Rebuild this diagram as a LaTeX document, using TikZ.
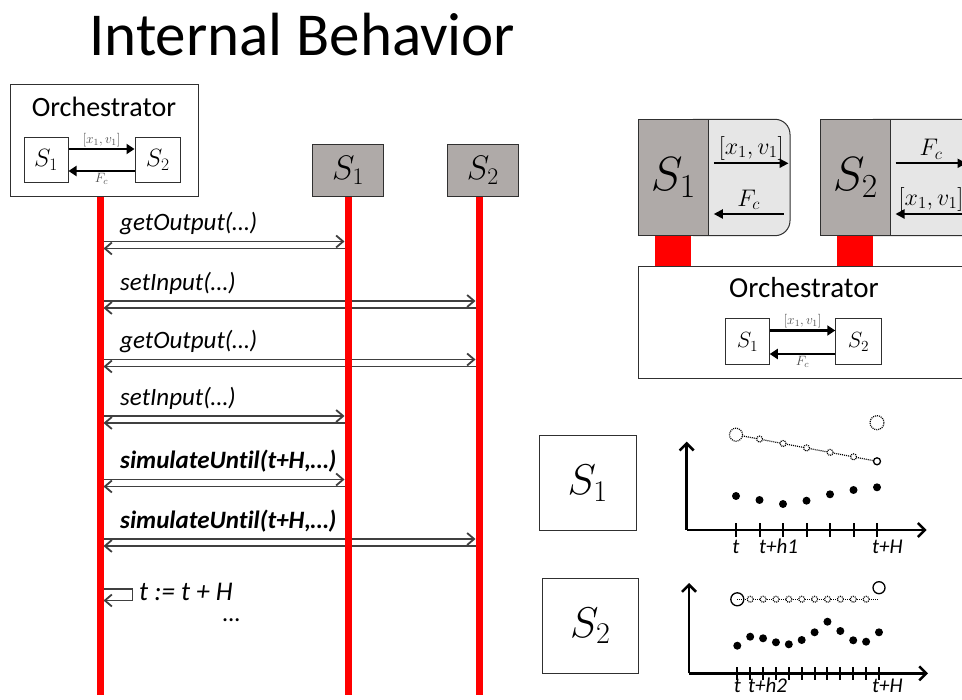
\RequirePackage{fix-cm}
\documentclass[tikz,border=0pt]{standalone}
\usepackage{fontspec}
\setmainfont{Carlito}[Ligatures=NoCommon]
\usetikzlibrary{arrows.meta,calc}
\definecolor{simgrey}{HTML}{AFAAA8}
\definecolor{portgrey}{HTML}{E6E6E6}
\definecolor{msggrey}{HTML}{404040}
\definecolor{boxline}{HTML}{303030}
\tikzset{
  box/.style={draw=boxline, line width=1pt, inner sep=0pt},
  simbox/.style={draw=boxline, line width=1pt, fill=simgrey, inner sep=0pt},
  lifeline/.style={draw=red, line width=7pt},
  msg/.style={draw=msggrey, line width=1.8pt, -{Straight Barb[length=7pt,width=12pt]}, shorten >=3.5pt, shorten <=3.5pt},
  flow/.style={line width=2.5pt, -{Triangle[length=8pt,width=10pt]}},
  uflow/.style={line width=2pt, -{Triangle[length=9pt,width=9pt]}},
  lbl/.style={font=\fontsize{25}{28}\selectfont\itshape, anchor=base west, inner sep=0pt},
  tl/.style={font=\fontsize{21}{24}\selectfont\itshape, inner sep=0pt},
  small/.style={font=\fontsize{13.5}{14}\selectfont, text=black!70, inner sep=1pt},
  axis/.style={line width=2.5pt, -{Straight Barb[length=7pt,width=14pt]}},
  tickmark/.style={line width=2pt},
  dotline/.style={line width=1.2pt, dash pattern=on 1pt off 1pt},
}
\begin{document}
\begin{tikzpicture}[x=1pt,y=-1pt]
\useasboundingbox (0,0) rectangle (962,700);
\clip (0,0) rectangle (962,700);

% title
\node[anchor=base west, inner sep=0pt, font=\fontsize{61}{66}\selectfont] (title) at (89,56) {Internal Behavior};

% left orchestrator
\node[box, minimum width=188pt, minimum height=111.5pt] (orchL) at (104,140.75) {};
\node[anchor=base, inner sep=0pt, font=\fontsize{28}{30}\selectfont] (orchLt) at (104,117) {Orchestrator};
\node[box, minimum width=44pt, minimum height=45pt, font=\fontsize{25}{25}\selectfont] (lS1) at (46,160) {$S_1$};
\node[box, minimum width=45.5pt, minimum height=45pt, font=\fontsize{25}{25}\selectfont] (lS2) at (157.75,160) {$S_2$};
\draw[flow] ([yshift=11pt]lS1.east) -- ([yshift=11pt]lS2.west) node[midway, above, small] {$[x_1,v_1]$};
\draw[flow] ([yshift=-11pt]lS2.west) -- ([yshift=-11pt]lS1.east) node[midway, below, small] {$F_c$};

% lifeline heads
\node[simbox, minimum width=70.5pt, minimum height=51.5pt, font=\fontsize{34}{34}\selectfont] (tS1) at (348,170.75) {$S_1$};
\node[simbox, minimum width=71pt, minimum height=51.5pt, font=\fontsize{34}{34}\selectfont] (tS2) at (482.8,170.75) {$S_2$};

\coordinate (oL) at (100,0);
\coordinate (s1L) at (348,0);
\coordinate (s2L) at (479,0);

% messages
\foreach \yy/\tg/\lab in {241.5/s1L/getOutput(…), 301/s2L/setInput(…), 359.5/s2L/getOutput(…), 416/s1L/setInput(…), 479.5/s1L/{\bfseries simulateUntil(t+H,…)}, 539/s2L/{\bfseries simulateUntil(t+H,…)}}{
  \draw[msg] ($(oL)+(0,\yy)$) -- ($(\tg)+(0,\yy)$);
  \draw[msg] ($(\tg)+(0,\yy+7)$) -- ($(oL)+(0,\yy+7)$);
  \node[lbl] at (120,\yy-10.5) {\lab};
}
% self loop
\draw[msg] ($(oL)+(0,589)$) -- ($(oL)+(32.5,589)$) -- ($(oL)+(32.5,600.5)$) -- ($(oL)+(0,600.5)$);
\node[lbl, font=\fontsize{27}{30}\selectfont\itshape] (tupd) at (139,600) {t := t + H};
\node[lbl] (dots) at (223,621) {…};

% lifelines
\draw[lifeline] (orchL.south -| oL) -- ($(oL)+(0,695)$);
\draw[lifeline] (tS1.south -| s1L) -- ($(s1L)+(0,695)$);
\draw[lifeline] (tS2.south -| s2L) -- ($(s2L)+(0,695)$);

% right top units
\node[draw=boxline, line width=1pt, fill=portgrey, rounded corners=15pt, minimum width=110pt, minimum height=116.4pt] (p1) at (735,177.5) {};
\node[simbox, minimum width=70pt, minimum height=116.4pt, font=\fontsize{48}{48}\selectfont] (u1) at (673.3,177.5) {$S_1$};
\draw[uflow] ([xshift=5pt,yshift=14.2pt]u1.east) -- ([xshift=-2pt,yshift=14.2pt]p1.east) node[midway, above=2pt, inner sep=0pt, font=\fontsize{24}{24}\selectfont] {$[x_1,v_1]$};
\draw[uflow] ([xshift=-7pt,yshift=-36.5pt]p1.east) -- ([xshift=5pt,yshift=-36.5pt]u1.east) node[midway, above=3pt, inner sep=0pt, font=\fontsize{24}{24}\selectfont] {$F_c$};

\node[draw=boxline, line width=1pt, fill=portgrey, rounded corners=15pt, minimum width=120pt, minimum height=116.4pt] (p2) at (920,177.5) {};
\node[simbox, minimum width=69.3pt, minimum height=116.4pt, font=\fontsize{48}{48}\selectfont] (u2) at (855.35,177.5) {$S_2$};
\draw[uflow] ([xshift=5pt,yshift=14.2pt]u2.east) -- ([xshift=76pt,yshift=14.2pt]u2.east) node[midway, above=3pt, inner sep=0pt, font=\fontsize{24}{24}\selectfont] {$F_c$};
\draw[uflow] ([xshift=76pt,yshift=-36.5pt]u2.east) -- ([xshift=5pt,yshift=-36.5pt]u2.east) node[midway, above=2pt, inner sep=0pt, font=\fontsize{24}{24}\selectfont] {$[x_1,v_1]$};

% red connectors to orchestrator
\node[fill=red, inner sep=0pt, minimum width=36pt, minimum height=30.3pt, anchor=north] (b1) at (u1.south) {};
\node[fill=red, inner sep=0pt, minimum width=36pt, minimum height=30.3pt, anchor=north] (b2) at (u2.south) {};

% right orchestrator
\node[box, anchor=north west, minimum width=340pt, minimum height=112pt] (orchR) at (638,266) {};
\node[anchor=base, inner sep=0pt, font=\fontsize{29}{30}\selectfont] (orchRt) at (804,298) {Orchestrator};
\node[box, minimum width=43.5pt, minimum height=46pt, font=\fontsize{22}{22}\selectfont] (rS1) at (747.5,342) {$S_1$};
\node[box, minimum width=45.5pt, minimum height=46pt, font=\fontsize{22}{22}\selectfont] (rS2) at (858.5,342) {$S_2$};
\draw[flow] ([yshift=11.5pt]rS1.east) -- ([yshift=11.5pt]rS2.west) node[midway, above, small] {$[x_1,v_1]$};
\draw[flow] ([yshift=-12pt]rS2.west) -- ([yshift=-12pt]rS1.east) node[midway, below, small] {$F_c$};

% big boxes
\node[box, minimum width=96.7pt, minimum height=95pt, font=\fontsize{43}{43}\selectfont] (bS1) at (587.7,483.5) {$S_1$};
\node[box, minimum width=96pt, minimum height=95pt, font=\fontsize{43}{43}\selectfont] (bS2) at (590.3,625.8) {$S_2$};

% chart 1
\coordinate (c1) at (686.7,530);
\draw[axis] (c1) -- ++(0,-88.3);
\draw[axis] (c1) -- ++(240,0);
\foreach \k in {0,...,6} \draw[tickmark] (736+23.5*\k,523.5) -- (736+23.5*\k,537);
\foreach \k/\v in {0/496,1/500,2/504,3/500.7,4/494.3,5/490,6/487.3} \fill (736+23.5*\k,\v) circle (4pt);
\draw[dotline] (736,434.7) -- (877,461.3);
\draw[dotline, fill=white] (736,434.7) circle (6.5pt);
\foreach \k in {1,...,5} \draw[dotline, fill=white] (736+23.5*\k,434.7+4.433*\k) circle (3pt);
\draw[line width=1.3pt, fill=white] (877,461.3) circle (3.5pt);
\draw[dotline] (877,422.7) circle (7pt);
\node[tl, anchor=base] at (736,554) {t};
\node[tl, anchor=base west] at (759,554) {t+h1};
\node[tl, anchor=base west] at (872,554) {t+H};

% chart 2
\coordinate (c2) at (689,673.3);
\draw[axis] (c2) -- ++(0,-90.3);
\draw[axis] (c2) -- ++(239,0);
\foreach \k in {0,...,11} \draw[tickmark] (737.3+12.88*\k,667) -- (737.3+12.88*\k,680);
\foreach \k/\v in {0/645.7,1/636.7,2/638.3,3/642.3,4/644.3,5/640,6/632.3,7/621.7,8/631,9/640.3,10/641.7,11/632.3} \fill (737.3+12.88*\k,\v) circle (4pt);
\draw[dotline] (737.3,599.3) -- (879,599.3);
\draw[line width=1.3pt] (737.3,599.3) circle (6.5pt);
\foreach \k in {1,...,10} \draw[dotline, fill=white] (737.3+12.88*\k,599.3) circle (3pt);
\draw[line width=1.3pt] (879,587.7) circle (6pt);
\node[tl, anchor=base] at (737.3,692) {t};
\node[tl, anchor=base west] at (748,692) {t+h2};
\node[tl, anchor=base west] at (872,692) {t+H};
\end{tikzpicture}
\end{document}
